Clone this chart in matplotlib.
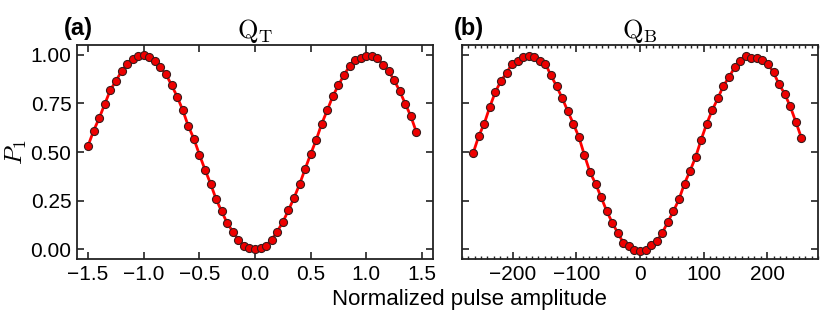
import matplotlib
matplotlib.use("Agg")
import matplotlib.pyplot as plt
from matplotlib.ticker import MultipleLocator

plt.rcParams['font.family'] = ['Liberation Sans', 'DejaVu Sans']
plt.rcParams['mathtext.fontset'] = 'cm'
plt.rcParams['axes.unicode_minus'] = True

# Panel (a): Q_T
x_a = [-1.50, -1.45, -1.40, -1.35, -1.30, -1.25, -1.20, -1.15, -1.10, -1.05,
       -1.00, -0.95, -0.90, -0.85, -0.80, -0.75, -0.70, -0.65, -0.60, -0.55,
       -0.50, -0.45, -0.40, -0.35, -0.30, -0.25, -0.20, -0.15, -0.10, -0.05,
       0.00, 0.05, 0.10, 0.15, 0.20, 0.25, 0.30, 0.35, 0.40, 0.45,
       0.50, 0.55, 0.60, 0.65, 0.70, 0.75, 0.80, 0.85, 0.90, 0.95,
       1.00, 1.05, 1.10, 1.15, 1.20, 1.25, 1.30, 1.35, 1.40, 1.45]
y_a = [0.533, 0.610, 0.675, 0.747, 0.819, 0.865, 0.915, 0.952, 0.979, 0.993,
       1.000, 0.990, 0.966, 0.935, 0.899, 0.844, 0.785, 0.716, 0.634, 0.569,
       0.487, 0.410, 0.338, 0.258, 0.195, 0.135, 0.091, 0.050, 0.018, 0.004,
       0.000, 0.005, 0.019, 0.050, 0.091, 0.140, 0.200, 0.263, 0.333, 0.412,
       0.489, 0.562, 0.646, 0.715, 0.788, 0.843, 0.897, 0.940, 0.971, 0.985,
       0.995, 0.993, 0.983, 0.949, 0.916, 0.870, 0.814, 0.749, 0.685, 0.603]

# Panel (b): Q_B
x_b = [-262.50, -253.75, -245.00, -236.25, -227.50, -218.75, -210.00, -201.25, -192.50, -183.75,
       -175.00, -166.25, -157.50, -148.75, -140.00, -131.25, -122.50, -113.75, -105.00, -96.25,
       -87.50, -78.75, -70.00, -61.25, -52.50, -43.75, -35.00, -26.25, -17.50, -8.75,
       0.00, 8.75, 17.50, 26.25, 35.00, 43.75, 52.50, 61.25, 70.00, 78.75,
       87.50, 96.25, 105.00, 113.75, 122.50, 131.25, 140.00, 148.75, 157.50, 166.25,
       175.00, 183.75, 192.50, 201.25, 210.00, 218.75, 227.50, 236.25, 245.00, 253.75]
y_b = [0.494, 0.581, 0.646, 0.732, 0.809, 0.865, 0.906, 0.954, 0.969, 0.986,
       0.991, 0.986, 0.969, 0.952, 0.894, 0.838, 0.778, 0.711, 0.646, 0.578,
       0.485, 0.397, 0.338, 0.268, 0.198, 0.137, 0.084, 0.034, 0.017, -0.005,
       -0.010, -0.005, 0.024, 0.041, 0.084, 0.140, 0.195, 0.256, 0.338, 0.403,
       0.474, 0.564, 0.646, 0.716, 0.776, 0.841, 0.884, 0.935, 0.966, 0.995,
       0.985, 0.985, 0.974, 0.952, 0.909, 0.848, 0.800, 0.735, 0.656, 0.574]

y_ticks = [0.00, 0.25, 0.50, 0.75, 1.00]
x_ticks_a = [-1.5, -1.0, -0.5, 0.0, 0.5, 1.0, 1.5]
x_ticks_b = [-200, -100, 0, 100, 200]

W, H = 831, 332
fig = plt.figure(figsize=(W / 100, H / 100), dpi=100)
bottom = (H - 259) / H
height = (259 - 45) / H
ax1 = fig.add_axes([77 / W, bottom, (433 - 77) / W, height])
ax2 = fig.add_axes([462 / W, bottom, (818 - 462) / W, height])

for ax, x, y in ((ax1, x_a, y_a), (ax2, x_b, y_b)):
    ax.plot(x, y, color='#ff0000', lw=2.0, zorder=2)
    ax.plot(x, y, 'o', ms=5.8, mfc='#ee0000', mec='#3a1a1a', mew=0.8, zorder=3)
    ax.set_ylim(-0.05, 1.05)
    ax.set_yticks(y_ticks)
    for s in ax.spines.values():
        s.set_linewidth(1.3)
        s.set_color('#222222')
    ax.tick_params(which='both', direction='in', top=True, right=True,
                   colors='#222222', labelsize=15, labelcolor='black', pad=4)
    ax.tick_params(which='major', length=5, width=1.2)
    ax.tick_params(which='minor', length=2.5, width=1.0)

ax1.set_xlim(-1.6, 1.6)
ax1.set_xticks(x_ticks_a)
ax1.set_xticklabels([f"{v:.1f}".replace('-', '\u2212') for v in x_ticks_a])
ax1.set_yticklabels([f"{v:.2f}" for v in y_ticks])
ax1.set_ylabel(r'$P_1$', fontsize=18, labelpad=1)

ax2.set_xlim(-280, 280)
ax2.set_xticks(x_ticks_b)
ax2.set_xticklabels([f"{v}".replace('-', '\u2212') for v in x_ticks_b])
ax2.xaxis.set_minor_locator(MultipleLocator(10))
ax2.set_yticklabels([])

ax1.set_title(r'$\mathrm{Q}_\mathrm{T}$', fontsize=19, pad=3)
ax2.set_title(r'$\mathrm{Q}_\mathrm{B}$', fontsize=19, pad=3)
fig.text(64 / W, 1 - 28 / H, '(a)', fontsize=17, fontweight='bold', va='center', ha='left')
fig.text(454 / W, 1 - 28 / H, '(b)', fontsize=17, fontweight='bold', va='center', ha='left')
fig.text(469 / W, 1 - 300 / H, 'Normalized pulse amplitude', fontsize=16, ha='center', va='center')

fig.savefig('out.png', dpi=100)
